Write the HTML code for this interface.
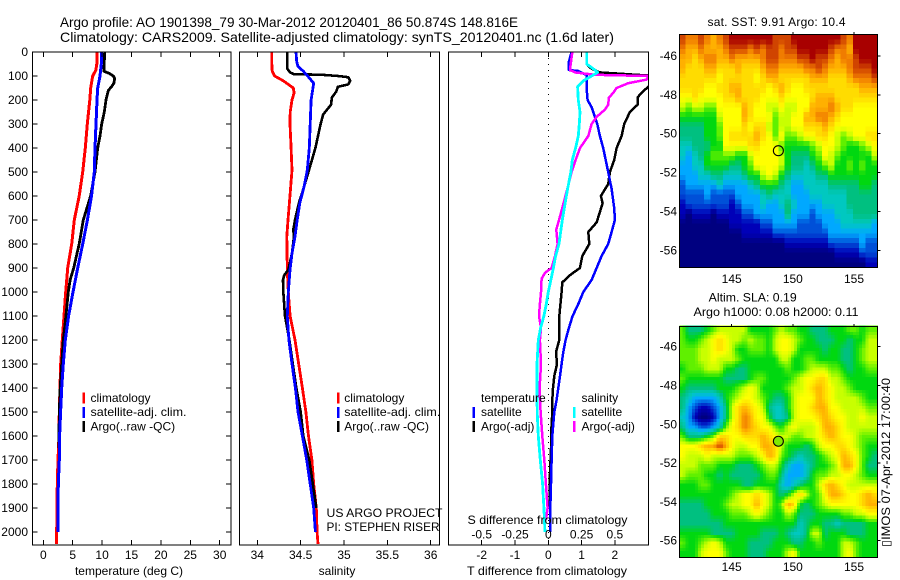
<!DOCTYPE html>
<html>
<head>
<meta charset="utf-8">
<title>Argo profile</title>
<style>
html,body{margin:0;padding:0;background:#fff;width:900px;height:580px;overflow:hidden}
svg{display:block}
text{font-family:"Liberation Sans",sans-serif;font-size:12px;fill:#000}
</style>
</head>
<body>
<svg id="chart" xmlns="http://www.w3.org/2000/svg" width="900" height="580" viewBox="0 0 900 580">
<defs>
<clipPath id="clip-t"><rect x="32.5" y="52" width="199" height="493"/></clipPath>
<clipPath id="clip-s"><rect x="239.5" y="52" width="200" height="493"/></clipPath>
<clipPath id="clip-d"><rect x="448.5" y="52" width="200" height="493"/></clipPath>
</defs>
<text x="60" y="27" style="font-size:14px" textLength="458" lengthAdjust="spacingAndGlyphs">Argo profile: AO 1901398_79 30-Mar-2012 20120401_86 50.874S 148.816E</text>
<text x="60" y="42" style="font-size:14px" textLength="554" lengthAdjust="spacingAndGlyphs">Climatology: CARS2009. Satellite-adjusted climatology: synTS_20120401.nc (1.6d later)</text>

<g id="maps"></g>
<g id="marks"></g>
<g id="axes"></g>

<text x="129" y="575" text-anchor="middle">temperature (deg C)</text>
<text x="337" y="575" text-anchor="middle">salinity</text>
<text x="547" y="575" text-anchor="middle" textLength="160" lengthAdjust="spacingAndGlyphs">T difference from climatology</text>
<text x="547.5" y="524" text-anchor="middle" textLength="160" lengthAdjust="spacingAndGlyphs">S difference from climatology</text>

<g>
<rect x="82.5" y="392.5" width="2.5" height="11" fill="#ff0000"/>
<rect x="82.5" y="407" width="2.5" height="11" fill="#0000ff"/>
<rect x="82.5" y="421" width="2.5" height="11" fill="#000"/>
<text x="90.5" y="402">climatology</text>
<text x="90.5" y="416" textLength="96" lengthAdjust="spacingAndGlyphs">satellite-adj. clim.</text>
<text x="90.5" y="430.5">Argo(..raw -QC)</text>
</g>
<g>
<rect x="337" y="392.5" width="2.5" height="11" fill="#ff0000"/>
<rect x="337" y="407" width="2.5" height="11" fill="#0000ff"/>
<rect x="337" y="421" width="2.5" height="11" fill="#000"/>
<text x="344.3" y="402">climatology</text>
<text x="344.3" y="416" textLength="96" lengthAdjust="spacingAndGlyphs">satellite-adj. clim.</text>
<text x="344.3" y="430.5">Argo(..raw -QC)</text>
</g>
<g>
<text x="326.5" y="517" textLength="116" lengthAdjust="spacingAndGlyphs">US ARGO PROJECT</text>
<text x="326.5" y="531" textLength="113" lengthAdjust="spacingAndGlyphs">PI: STEPHEN RISER</text>
</g>
<g>
<text x="481" y="402">temperature</text>
<rect x="472.5" y="407" width="2.5" height="11" fill="#0000ff"/>
<text x="481" y="416">satellite</text>
<rect x="472.5" y="421" width="2.5" height="11" fill="#000"/>
<text x="481" y="430.5">Argo(-adj)</text>
<text x="581.5" y="402">salinity</text>
<rect x="573" y="407" width="2.5" height="11" fill="#00ffff"/>
<text x="581.5" y="416">satellite</text>
<rect x="573" y="421" width="2.5" height="11" fill="#ff00ff"/>
<text x="581.5" y="430.5">Argo(-adj)</text>
</g>

<text x="776.5" y="26" text-anchor="middle" textLength="138" lengthAdjust="spacing">sat. SST: 9.91  Argo: 10.4</text>
<text x="752.7" y="301.5" text-anchor="middle" textLength="88" lengthAdjust="spacingAndGlyphs">Altim. SLA: 0.19</text>
<text x="776" y="316" text-anchor="middle" textLength="165" lengthAdjust="spacingAndGlyphs">Argo h1000: 0.08 h2000: 0.11</text>
<text transform="translate(890,547) rotate(-90)" textLength="169" lengthAdjust="spacingAndGlyphs">▯IMOS 07-Apr-2012 17:00:40</text>
</svg>

<script>
// ---------- data: temperature panel ----------
const tempTicks = [0, 5, 10, 15, 20, 25, 30];
const depthTicks = [0,100,200,300,400,500,600,700,800,900,1000,1100,1200,1300,1400,1500,1600,1700,1800,1900,2000];
const tempClimDepth = [0,50,75,100,150,200,300,400,500,600,700,800,900,1000,1100,1200,1300,1400,1500,1600,1700,1800,1900,2000,2050];
const tempClimValue = [9.13,9.1,8.95,8.4,8.06,7.9,7.48,7.15,6.7,6.1,5.27,4.83,4.15,3.81,3.52,3.23,2.96,2.84,2.72,2.67,2.5,2.38,2.33,2.28,2.28];
const tempSatDepth = [0,50,100,150,200,300,400,500,600,700,800,900,1000,1100,1200,1300,1400,1500,1600,1700,1800,1900,2000];
const tempSatValue = [9.87,9.87,9.64,9.25,9.13,8.96,8.8,8.67,8.2,7.5,6.7,5.85,5.05,4.3,3.75,3.4,3.13,2.95,2.78,2.72,2.55,2.5,2.5];
const tempArgoDepth = [0,80,90,100,110,130,145,160,200,250,300,350,400,500,600,700,800,900,950,1000,1100,1200,1300,1400,1500,1600,1650];
const tempArgoValue = [10.44,10.3,11.3,11.9,12.14,12.0,11.6,11.06,10.66,10.37,9.93,9.64,9.25,8.8,8.05,6.8,6.1,5.17,4.55,4.25,3.85,3.4,3.13,2.87,2.72,2.67,2.62];

// ---------- data: salinity panel ----------
const salTicks = [34, 34.5, 35, 35.5, 36];
const salTickLabels = ['34', '34.5', '35', '35.5', '36'];
const salClimDepth = [0,40,80,100,120,150,170,200,250,300,400,492,629,700,769,908,1000,1100,1200,1300,1400,1500,1600,1700,1800,1900,2000,2050];
const salClimValue = [34.166,34.166,34.172,34.2,34.3,34.415,34.425,34.4,34.38,34.377,34.39,34.4,34.37,34.354,34.34,34.346,34.358,34.378,34.435,34.477,34.52,34.56,34.59,34.63,34.65,34.68,34.69,34.7];
const salSatDepth = [0,40,60,80,100,130,200,300,400,492,561,629,700,769,839,908,1000,1100,1200,1300,1400,1500,1600,1700,1800,1900,2000];
const salSatValue = [34.446,34.454,34.47,34.53,34.58,34.65,34.62,34.61,34.6,34.577,34.54,34.49,34.46,34.435,34.4,34.377,34.358,34.346,34.365,34.4,34.44,34.47,34.52,34.57,34.61,34.65,34.67];
const salArgoDepth = [0,70,85,92,95,100,105,120,135,145,165,190,220,260,300,400,492,561,629,700,741,769,839,908,930,950,1000,1100,1200,1300,1400,1500,1600,1700,1800,1900];
const salArgoValue = [34.346,34.346,34.377,34.42,34.75,34.93,35.05,35.07,35.05,34.93,34.91,34.86,34.85,34.76,34.73,34.67,34.596,34.54,34.48,34.435,34.415,34.423,34.4,34.357,34.31,34.296,34.3,34.32,34.37,34.41,34.45,34.5,34.53,34.6,34.64,34.68];

// ---------- data: difference panel ----------
const diffTTicks = [-2, -1, 0, 1, 2];
const diffTTickLabels = ['-2', '-1', '0', '1', '2'];
const diffSTicks = [-0.5, -0.25, 0, 0.25, 0.5];
const diffSTickLabels = ['-0.5', '-0.25', '0', '0.25', '0.5'];
const diffTSatDepth = [0,40,75,79,96,150,200,230,300,350,400,500,570,650,700,750,800,850,900,950,1000,1050,1100,1150,1200,1250,1300,1350,1400,1450,1500,1600,1700,1800,1900,2000];
const diffTSatValue = [0.7,0.62,0.62,0.9,1.15,1.15,1.18,1.3,1.47,1.55,1.65,1.8,1.9,1.98,2.0,1.9,1.8,1.6,1.45,1.3,1.05,0.9,0.73,0.62,0.52,0.45,0.4,0.35,0.3,0.25,0.18,0.12,0.1,0.08,0.06,0.06];
const diffTArgoDepth = [0,50,70,85,95,100,120,145,170,190,220,250,300,350,400,450,500,550,600,630,680,710,750,800,850,900,930,960,1000,1100,1200,1250,1300,1350,1400,1450,1500,1600,1650,1800,1900];
const diffTArgoValue = [1.15,1.15,1.3,1.55,2.65,3.3,3.5,3.0,2.8,2.68,2.68,2.45,2.28,2.2,2.05,1.98,1.85,1.8,1.58,1.63,1.52,1.45,1.2,1.23,1.02,0.95,0.65,0.42,0.4,0.33,0.33,0.23,0.26,0.18,0.14,0.12,0.12,0.08,0.08,0.04,0.04];
const diffSSatDepth = [0,50,75,85,100,120,145,200,250,300,350,400,450,500,570,650,700,800,850,900,1000,1050,1100,1150,1200,1300,1400,1500,1600,1700,1800,1900,2000];
const diffSSatValue = [0.288,0.288,0.35,0.37,0.325,0.263,0.22,0.225,0.238,0.233,0.225,0.205,0.18,0.17,0.145,0.12,0.105,0.08,0.055,0.038,0,-0.015,-0.033,-0.058,-0.075,-0.085,-0.085,-0.083,-0.075,-0.06,-0.043,-0.033,-0.025];
const diffSArgoDepth = [0,50,75,85,95,100,115,130,150,170,190,220,240,270,300,350,400,450,500,570,650,700,740,800,850,900,920,945,1000,1050,1100,1150,1200,1300,1400,1500,1600,1700,1800,1900,1950];
const diffSArgoValue = [0.18,0.168,0.163,0.2,0.35,0.75,0.738,0.6,0.513,0.488,0.455,0.45,0.425,0.363,0.325,0.3,0.238,0.205,0.175,0.143,0.105,0.08,0.06,0.07,0.05,0.025,-0.025,-0.05,-0.055,-0.063,-0.07,-0.055,-0.063,-0.055,-0.065,-0.058,-0.045,-0.03,-0.018,-0.005,-0.018];

// ---------- data: maps ----------
const mapLonTicks = [145, 150, 155];
const mapLatTicks = [-46, -48, -50, -52, -54, -56];
const floatLon = 148.816;
const floatLat = -50.874;
const sstLevels = [
[13,12,12,13,12,11,12,13,14,14,14,14,14,14,14,13,13,13,14,14,14,14,14,14,14,14,13,12,14,14,14,14],
[12,11,11,12,11,11,11,12,13,13,13,12,13,12,13,13,12,13,13,14,14,14,14,14,13,12,12,11,14,14,14,14],
[11,11,10,11,12,12,11,11,12,11,11,11,11,12,13,13,12,12,12,13,13,14,13,13,12,11,12,12,13,14,14,14],
[11,10,10,10,11,11,10,10,10,11,10,10,10,11,12,12,11,11,11,11,12,12,13,12,11,11,11,12,13,13,13,14],
[10,10,10,10,10,10,9,10,10,10,10,10,9,10,11,11,10,10,10,10,10,11,11,11,10,10,10,11,12,12,12,13],
[10,10,10,10,9,9,10,10,11,11,10,10,10,10,9,10,11,10,9,9,10,10,10,10,10,10,10,10,10,11,11,11],
[9,9,10,9,9,9,9,10,10,11,10,10,10,9,9,9,10,9,9,9,9,10,11,11,11,10,10,10,10,10,10,10],
[8,7,8,8,7,7,9,9,9,9,11,10,9,9,8,8,9,8,8,9,9,11,11,11,12,11,10,10,9,9,9,9],
[6,6,6,6,6,6,8,9,9,9,11,10,9,9,9,7,8,8,9,9,11,11,12,12,11,10,9,9,9,9,9,9],
[5,5,5,5,6,6,7,9,9,9,10,9,10,10,8,7,8,8,9,9,10,10,10,11,10,9,9,9,9,9,9,9],
[5,5,5,5,6,6,7,9,10,10,10,10,11,10,9,7,9,7,7,8,9,9,10,10,9,8,7,8,9,9,10,10],
[4,4,5,5,5,6,6,9,9,9,9,10,10,9,9,9,7,6,6,6,6,7,8,9,9,8,7,6,6,7,8,9],
[4,3,4,5,6,7,7,7,7,6,6,8,9,9,9,9,8,6,5,5,5,6,7,9,8,7,6,6,6,6,6,8],
[3,3,4,4,6,6,6,6,5,5,6,7,9,9,9,9,8,6,5,5,4,5,6,7,8,6,6,7,6,7,6,6],
[3,3,3,4,4,5,5,4,4,4,5,6,6,8,9,8,6,5,4,4,4,4,5,5,6,6,6,6,6,6,6,6],
[2,3,3,3,3,3,4,3,3,3,3,4,5,6,6,6,5,4,3,3,4,4,4,4,5,5,5,5,5,6,6,5],
[2,2,2,2,3,2,2,2,2,3,3,3,3,4,5,4,4,4,3,3,3,4,4,4,4,4,4,5,5,5,5,5],
[1,2,2,2,2,2,2,2,1,2,3,3,3,4,3,3,4,5,4,3,3,3,3,4,4,4,4,5,5,5,5,5],
[1,0,1,1,1,0,1,1,1,1,2,2,3,3,3,3,3,5,3,3,3,2,3,3,3,4,4,4,5,5,5,5],
[0,0,0,0,0,0,0,0,1,1,1,1,1,2,2,3,3,3,3,2,2,2,2,3,3,3,4,4,4,4,4,3],
[0,0,0,0,0,0,0,0,0,0,1,1,1,1,1,2,2,2,2,2,2,2,2,2,3,3,3,3,3,3,3,3],
[0,0,0,0,0,0,0,0,0,0,0,0,0,0,0,0,0,1,1,1,1,1,1,1,2,2,2,2,2,3,2,2],
[0,0,0,0,0,0,0,0,0,0,0,0,0,0,0,0,0,0,0,0,0,0,0,0,0,1,1,1,1,2,2,2],
[0,0,0,0,0,0,0,0,0,0,0,0,0,0,0,0,0,0,0,0,0,0,0,0,0,0,0,0,0,0,1,1]
];
const slaLevels = [
[7,5,5,5,6,7,8,8,8,8,8,6,6,6,6,7,8,7,7,6,6,5,5,5,6,6,6,7,7,6,7,7],
[7,6,6,7,8,9,10,9,8,8,7,8,7,7,6,8,9,9,8,7,6,6,5,5,5,6,6,5,6,6,8,8],
[7,7,7,8,8,9,10,9,8,6,6,7,7,7,6,8,9,9,8,6,6,6,6,5,6,6,5,5,6,7,8,8],
[7,7,7,8,8,9,8,8,8,7,6,6,6,6,6,6,8,8,6,6,7,7,6,6,6,6,5,5,6,7,8,8],
[6,7,7,7,8,8,8,6,6,5,5,6,6,6,6,6,6,7,6,6,7,8,8,8,7,7,6,5,6,6,7,7],
[7,6,6,6,6,6,6,5,5,5,5,6,7,7,6,6,6,6,7,8,9,9,10,10,8,8,7,6,6,6,6,6],
[6,5,5,5,5,5,6,6,6,7,8,9,8,6,6,6,6,7,8,8,9,10,11,10,9,8,8,7,6,6,6,6],
[5,4,3,3,3,3,4,6,7,8,9,9,8,7,6,5,5,6,8,9,9,9,11,10,9,8,8,8,8,7,6,6],
[5,3,2,1,1,2,3,5,8,10,11,10,9,8,5,4,4,6,8,9,9,10,11,11,9,9,8,8,8,8,7,7],
[4,3,1,0,0,1,3,5,8,10,12,11,9,9,6,4,4,5,8,9,9,9,10,11,10,9,9,8,8,9,8,8],
[5,3,3,2,2,3,4,7,9,10,12,11,10,9,9,7,6,8,9,8,8,8,9,11,11,10,9,8,8,8,8,8],
[7,5,5,5,6,7,10,10,9,9,10,10,10,11,10,9,8,8,7,7,8,8,9,10,11,10,9,9,8,7,7,7],
[9,9,9,10,11,11,13,11,9,8,8,9,9,11,11,10,8,6,6,6,5,6,8,9,9,10,10,9,8,7,6,6],
[9,8,8,8,9,8,8,8,8,7,7,7,8,9,11,10,7,6,5,4,5,5,6,7,8,9,11,10,9,7,6,5],
[8,8,8,7,7,7,6,6,6,5,5,5,6,7,8,8,6,4,3,3,4,5,6,6,7,8,11,11,9,7,5,5],
[8,7,7,7,6,6,5,6,5,5,5,5,5,6,7,7,5,3,3,3,4,6,7,7,8,8,9,9,8,7,6,6],
[6,6,6,7,7,6,6,6,6,6,5,5,6,6,6,6,4,3,4,5,6,6,8,10,11,10,9,8,8,8,8,8],
[6,6,6,6,6,6,6,6,7,8,9,9,10,9,8,6,5,6,8,10,8,6,7,9,11,11,10,9,9,10,11,10],
[5,5,5,5,6,6,6,7,8,8,9,9,11,9,8,6,7,11,10,6,5,6,7,8,9,9,9,9,9,10,11,11],
[5,5,5,5,5,6,6,6,7,7,7,8,9,8,7,6,6,8,7,5,5,5,6,6,6,6,7,7,8,8,9,9],
[5,5,5,5,5,5,5,6,6,6,6,6,6,6,6,6,6,6,6,4,5,6,6,5,5,4,5,5,5,5,6,6],
[6,6,6,6,6,5,5,5,5,6,6,6,6,5,5,5,6,5,4,4,5,8,8,5,6,6,6,5,5,5,6,6],
[7,6,6,7,8,9,8,6,6,6,6,5,5,5,5,6,6,6,5,5,6,6,7,6,6,6,8,8,7,6,6,6],
[6,6,6,8,9,9,9,7,6,6,6,5,5,5,6,6,6,8,9,6,6,6,6,6,6,6,8,9,7,6,6,6]
];

// ---------- colour scale (level to colour) ----------
const mapScaleReds   = [0,0,0,0,0,0,0,96,200,255,255,255,240,208,168];
const mapScaleGreens = [0,0,80,168,200,192,216,240,255,255,220,176,124,68,0];
const mapScaleBlues  = [128,184,216,255,192,128,16,0,0,0,0,0,0,0,0];

function levelColor(v) {
  const t = Math.max(0, Math.min(mapScaleReds.length - 1, v));
  const i = Math.min(mapScaleReds.length - 2, Math.floor(t));
  const f = t - i;
  const r = Math.round(mapScaleReds[i] + (mapScaleReds[i + 1] - mapScaleReds[i]) * f);
  const g = Math.round(mapScaleGreens[i] + (mapScaleGreens[i + 1] - mapScaleGreens[i]) * f);
  const b = Math.round(mapScaleBlues[i] + (mapScaleBlues[i + 1] - mapScaleBlues[i]) * f);
  return 'rgb(' + r + ',' + g + ',' + b + ')';
}

// ---------- axis functions ----------
const NS = 'http://www.w3.org/2000/svg';
const yDepth = d => 52 + 0.24 * d;
const xTemp = t => 43.3 + 5.88 * t;
const xSal = s => 257.3 + 86.7 * (s - 34);
const xDiffT = t => 548.3 + 33.3 * t;
const xDiffS = s => 548.3 + 133.2 * s;
const xLon = lon => 731.7 + 12.23 * (lon - 145);
const ySst = lat => 56 + 19.43 * (-46 - lat);
const ySla = lat => 346.7 + 19.4 * (-46 - lat);

const marksLayer = document.getElementById('marks');
const axesLayer = document.getElementById('axes');
const mapsLayer = document.getElementById('maps');

function svgEl(tag, attrs, parent) {
  const el = document.createElementNS(NS, tag);
  for (const k in attrs) el.setAttribute(k, attrs[k]);
  parent.appendChild(el);
  return el;
}

function drawLine(name, depths, values, xFn, color, width, clip) {
  const pts = depths.map((d, i) => xFn(values[i]).toFixed(1) + ',' + yDepth(d).toFixed(1)).join(' ');
  const el = svgEl('polyline', {points: pts, fill: 'none', stroke: color, 'stroke-width': width, 'clip-path': 'url(#' + clip + ')', 'shape-rendering': 'crispEdges', 'stroke-linejoin': 'round'}, marksLayer);
  
  
}

function drawFrame(name, x0, y0, x1, y1) {
  const el = svgEl('rect', {x: x0, y: y0, width: x1 - x0, height: y1 - y0, fill: 'none', stroke: '#000', 'stroke-width': 1.2, 'shape-rendering': 'crispEdges'}, axesLayer);
  
  
}

function drawTick(x1, y1, x2, y2) {
  const el = svgEl('line', {x1: x1, y1: y1, x2: x2, y2: y2, stroke: '#000', 'stroke-width': 1, 'shape-rendering': 'crispEdges'}, axesLayer);
  
  
}

function drawLabel(txt, x, y, anchor) {
  const el = svgEl('text', {x: x, y: y, 'text-anchor': anchor}, axesLayer);
  el.textContent = txt;
  
  
}

// bilinear lookup between grid-cell centres, so the shaded field matches the
// reference's smooth rendering; nx/ny are the sub-pixels drawn per data cell
function sampleLevel(levels, r, c) {
  const nr = levels.length, nc = levels[0].length;
  const rr = Math.max(0, Math.min(nr - 1, r));
  const cc = Math.max(0, Math.min(nc - 1, c));
  const r0 = Math.floor(rr), c0 = Math.floor(cc);
  const r1 = Math.min(nr - 1, r0 + 1), c1 = Math.min(nc - 1, c0 + 1);
  const fr = rr - r0, fc = cc - c0;
  const top = levels[r0][c0] * (1 - fc) + levels[r0][c1] * fc;
  const bot = levels[r1][c0] * (1 - fc) + levels[r1][c1] * fc;
  return top * (1 - fr) + bot * fr;
}

function drawHeatmap(name, levels, yFn, nx, ny) {
  const group = svgEl('g', {}, mapsLayer);
  
  
  const lonLeft = 140.72, lonRight = 156.94, latTop = -44.9, latBottom = -56.87;
  const nRows = levels.length * ny;
  const nCols = levels[0].length * nx;
  for (let r = 0; r < nRows; r++) {
    const y0 = yFn(latTop + (latBottom - latTop) * r / nRows);
    const y1 = yFn(latTop + (latBottom - latTop) * (r + 1) / nRows);
    for (let c = 0; c < nCols; c++) {
      const x0 = xLon(lonLeft + (lonRight - lonLeft) * c / nCols);
      const x1 = xLon(lonLeft + (lonRight - lonLeft) * (c + 1) / nCols);
      const v = sampleLevel(levels, (r + 0.5) / ny - 0.5, (c + 0.5) / nx - 0.5);
      const cell = svgEl('rect', {x: x0.toFixed(2), y: y0.toFixed(2), width: (x1 - x0 + 0.4).toFixed(2), height: (y1 - y0 + 0.4).toFixed(2), fill: levelColor(v), 'shape-rendering': 'crispEdges'}, group);
      
      
    }
  }
}

function drawMapAxes(name, yFn, top, bottom, labelY) {
  drawFrame(name, 679.5, top, 877.5, bottom);
  mapLonTicks.forEach(lon => {
    drawTick(xLon(lon), top - 2.5, xLon(lon), top);
    drawLabel(String(lon), xLon(lon), labelY, 'middle');
  });
  mapLatTicks.forEach(lat => {
    drawTick(877.5, yFn(lat), 880.5, yFn(lat));
    drawLabel(String(lat), 677, yFn(lat) + 4, 'end');
  });
  const dot = svgEl('circle', {cx: xLon(floatLon), cy: yFn(floatLat), r: 5, stroke: '#000', 'stroke-width': 1.1, fill: name === 'sst-map-frame' ? 'none' : '#80e800'}, axesLayer);
  
  
}

// ---------- heatmaps ----------
drawHeatmap('sst-heatmap', sstLevels, ySst, 1, 2);
drawHeatmap('sla-heatmap', slaLevels, ySla, 2, 3);

// ---------- profile lines ----------
drawLine('temperature-climatology-line', tempClimDepth, tempClimValue, xTemp, '#ff0000', 3, 'clip-t');
drawLine('temperature-argo-line', tempArgoDepth, tempArgoValue, xTemp, '#000', 2.8, 'clip-t');
drawLine('temperature-satellite-line', tempSatDepth, tempSatValue, xTemp, '#0000ff', 3, 'clip-t');

drawLine('salinity-climatology-line', salClimDepth, salClimValue, xSal, '#ff0000', 2.8, 'clip-s');
drawLine('salinity-argo-line', salArgoDepth, salArgoValue, xSal, '#000', 2.6, 'clip-s');
drawLine('salinity-satellite-line', salSatDepth, salSatValue, xSal, '#0000ff', 2.8, 'clip-s');

// dotted zero reference line
const zeroLine = svgEl('line', {x1: xDiffT(0), y1: 52, x2: xDiffT(0), y2: 545, stroke: '#000', 'stroke-width': 1, 'stroke-dasharray': '1.2 4.8', 'shape-rendering': 'crispEdges'}, marksLayer);



drawLine('t-difference-argo-line', diffTArgoDepth, diffTArgoValue, xDiffT, '#000', 2.5, 'clip-d');
drawLine('t-difference-satellite-line', diffTSatDepth, diffTSatValue, xDiffT, '#0000ff', 2.5, 'clip-d');
drawLine('s-difference-argo-line', diffSArgoDepth, diffSArgoValue, xDiffS, '#ff00ff', 2.5, 'clip-d');
drawLine('s-difference-satellite-line', diffSSatDepth, diffSSatValue, xDiffS, '#00ffff', 2.8, 'clip-d');

// ---------- axes ----------
drawFrame('temperature-plot-frame', 32.5, 52, 231, 545);
drawFrame('salinity-plot-frame', 239.5, 52, 439.5, 545);
drawFrame('difference-plot-frame', 448.5, 52, 648.5, 545);

depthTicks.forEach(d => {
  drawTick(32.5, yDepth(d), 37.5, yDepth(d));
  drawTick(226, yDepth(d), 231, yDepth(d));
  drawLabel(String(d), 28, yDepth(d) + 4, 'end');
});
tempTicks.forEach(t => {
  drawTick(xTemp(t), 52, xTemp(t), 57);
  drawTick(xTemp(t), 540, xTemp(t), 545);
  drawLabel(String(t), xTemp(t), 559, 'middle');
});
salTicks.forEach((s, i) => {
  drawTick(xSal(s), 52, xSal(s), 57);
  drawTick(xSal(s), 540, xSal(s), 545);
  drawLabel(salTickLabels[i], xSal(s), 559, 'middle');
});
diffTTicks.forEach((t, i) => {
  drawTick(xDiffT(t), 52, xDiffT(t), 57);
  drawTick(xDiffT(t), 540, xDiffT(t), 545);
  drawLabel(diffTTickLabels[i], xDiffT(t), 559, 'middle');
});
diffSTicks.forEach((s, i) => {
  drawLabel(diffSTickLabels[i], xDiffS(s), 538.5, 'middle');
});

drawMapAxes('sst-map-frame', ySst, 34.5, 267.5, 283);
drawMapAxes('sla-map-frame', ySla, 326.5, 557.5, 571);
</script>
</body>
</html>
